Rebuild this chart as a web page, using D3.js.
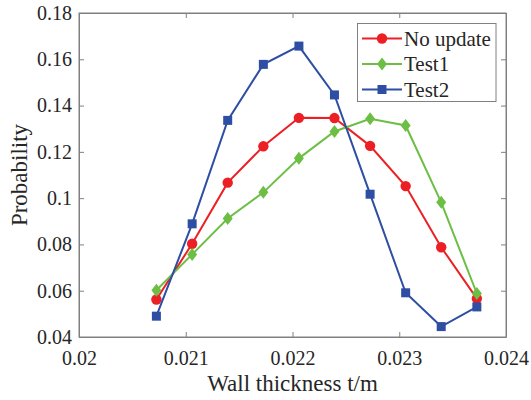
<!DOCTYPE html>
<html>
<head>
<meta charset="utf-8">
<script src="https://cdn.jsdelivr.net/npm/d3@7"></script>
<style>
  body { margin: 0; background: #fff; }
  text { font-family: "Liberation Serif", "Times New Roman", serif; fill: #262626; }
</style>
</head>
<body>
<div id="chart"></div>
<script>
// wall thickness values (x)
var thickness = [0.020725, 0.02106, 0.021393, 0.021727, 0.02206, 0.022393, 0.022727, 0.02306, 0.023393, 0.023727];
var noUpdate = [0.0562, 0.0803, 0.1067, 0.1224, 0.1347, 0.1346, 0.1226, 0.1052, 0.0788, 0.0566];
var test1 = [0.0602, 0.0757, 0.0912, 0.1025, 0.1172, 0.1288, 0.1343, 0.1314, 0.0982, 0.0588];
var test2 = [0.0490, 0.0889, 0.1336, 0.1578, 0.1657, 0.1446, 0.1017, 0.0591, 0.0445, 0.0530];
var seriesNames = ["No update", "Test1", "Test2"];
var xTicks = [0.02, 0.021, 0.022, 0.023, 0.024];
var yTicks = [0.04, 0.06, 0.08, 0.1, 0.12, 0.14, 0.16, 0.18];

var width = 531, height = 400;
var margin = {top: 13, right: 25, bottom: 63, left: 79};
var serif = "Liberation Serif";

var series = [
    {name: seriesNames[0], values: noUpdate, color: "#ec2024", shape: "circle"},
    {name: seriesNames[1], values: test1, color: "#6dbe45", shape: "diamond"},
    {name: seriesNames[2], values: test2, color: "#2e4ea3", shape: "square"}
];

var svg = d3.select("#chart").append("svg")
    .attr("width", width)
    .attr("height", height);

var x = d3.scaleLinear().domain([0.02, 0.024]).range([margin.left, width - margin.right]);
var y = d3.scaleLinear().domain([0.04, 0.18]).range([height - margin.bottom, margin.top]);

var axisColor = "#808080";

// plot frame
svg.append("rect")
    .attr("x", x(0.02)).attr("y", y(0.18))
    .attr("width", x(0.024) - x(0.02)).attr("height", y(0.04) - y(0.18))
    .attr("fill", "none").attr("stroke", axisColor).attr("stroke-width", 1);

function fmt(d) { return String(+d.toFixed(3)); }

// bottom axis, ticks pointing inward
svg.append("g")
    .attr("transform", "translate(0," + y(0.04) + ")")
    .call(d3.axisBottom(x).tickValues(xTicks).tickFormat(fmt).tickSizeInner(-5).tickSizeOuter(0).tickPadding(14));
// left axis
svg.append("g")
    .attr("transform", "translate(" + x(0.02) + ",0)")
    .call(d3.axisLeft(y).tickValues(yTicks).tickFormat(fmt).tickSizeInner(-5).tickSizeOuter(0).tickPadding(7));
// top and right ticks
svg.append("g")
    .attr("transform", "translate(0," + y(0.18) + ")")
    .call(d3.axisTop(x).tickValues(xTicks).tickFormat("").tickSizeInner(-5).tickSizeOuter(0));
svg.append("g")
    .attr("transform", "translate(" + x(0.024) + ",0)")
    .call(d3.axisRight(y).tickValues(yTicks).tickFormat("").tickSizeInner(-5).tickSizeOuter(0));

svg.selectAll(".domain").attr("stroke", axisColor);
svg.selectAll(".tick line").attr("stroke", axisColor);
svg.selectAll(".tick text")
    .attr("font-family", serif)
    .attr("font-size", 20)
    .attr("fill", "#262626");

// axis titles
svg.append("text")
    .attr("x", (x(0.02) + x(0.024)) / 2)
    .attr("y", 391)
    .attr("text-anchor", "middle")
    .attr("font-family", serif)
    .attr("font-size", 23)
    .text("Wall thickness t/m");
svg.append("text")
    .attr("transform", "translate(27," + (y(0.04) + y(0.18)) / 2 + ") rotate(-90)")
    .attr("text-anchor", "middle")
    .attr("font-family", serif)
    .attr("font-size", 23)
    .text("Probability");

var line = d3.line()
    .x(function (d, i) { return x(thickness[i]); })
    .y(function (d) { return y(d); });

function drawMarker(g, shape, color, cx, cy) {
    if (shape === "circle") {
        g.append("circle").attr("cx", cx).attr("cy", cy).attr("r", 5.2).attr("fill", color);
    } else if (shape === "square") {
        g.append("rect").attr("x", cx - 4.5).attr("y", cy - 4.5).attr("width", 9).attr("height", 9).attr("fill", color);
    } else {
        g.append("path")
            .attr("d", "M" + cx + "," + (cy - 6.5) + "L" + (cx + 5) + "," + cy + "L" + cx + "," + (cy + 6.5) + "L" + (cx - 5) + "," + cy + "Z")
            .attr("fill", color);
    }
}

series.forEach(function (s) {
    var g = svg.append("g");
    g.append("path")
        .datum(s.values)
        .attr("d", line)
        .attr("fill", "none")
        .attr("stroke", s.color)
        .attr("stroke-width", 2);
    s.values.forEach(function (v, i) {
        drawMarker(g, s.shape, s.color, x(thickness[i]), y(v));
    });
});

// legend
var legend = svg.append("g");
legend.append("rect")
    .attr("x", 357.5).attr("y", 23.5)
    .attr("width", 138.5).attr("height", 78)
    .attr("fill", "#fff").attr("stroke", axisColor).attr("stroke-width", 1);
series.forEach(function (s, i) {
    var ly = 38.5 + i * 25.5;
    legend.append("line")
        .attr("x1", 362).attr("x2", 402)
        .attr("y1", ly).attr("y2", ly)
        .attr("stroke", s.color).attr("stroke-width", 2);
    drawMarker(legend, s.shape, s.color, 382, ly);
    legend.append("text")
        .attr("x", 404).attr("y", ly + 7)
        .attr("font-family", serif)
        .attr("font-size", 21)
        .text(s.name);
});
</script>
</body>
</html>
